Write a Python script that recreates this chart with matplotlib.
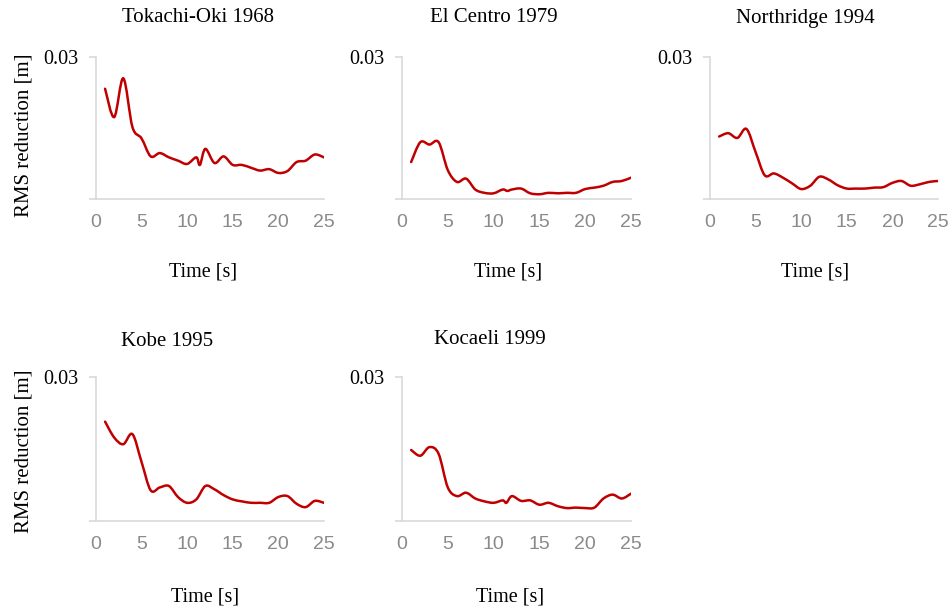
import numpy as np
import matplotlib.pyplot as plt
from matplotlib.path import Path
from matplotlib.patches import PathPatch

# RMS displacement reduction per earthquake record, sampled in time [s]
tokachi_t = [1, 2, 3, 4, 5, 6, 7, 8, 9, 10, 11, 11.4, 12, 13, 14, 15, 16, 17, 18, 19, 20, 21, 22, 23, 24, 25]
tokachi_rms = [0.0233, 0.0173, 0.0255, 0.0152, 0.0128, 0.0090, 0.0097, 0.0088, 0.0081, 0.0074, 0.0088, 0.0072,
               0.0106, 0.0076, 0.0090, 0.0072, 0.0072, 0.0066, 0.0060, 0.0063, 0.0055, 0.0059, 0.0078, 0.0081,
               0.0094, 0.0088]

elcentro_t = [1, 2, 3, 4, 5, 6, 7, 8, 9, 10, 11, 11.5, 12, 13, 14, 15, 16, 17, 18, 19, 20, 21, 22, 23, 24, 25]
elcentro_rms = [0.0078, 0.0120, 0.0115, 0.0120, 0.0061, 0.0036, 0.0043, 0.0020, 0.0013, 0.0012, 0.0020, 0.0017,
                0.0020, 0.0022, 0.0012, 0.0010, 0.0013, 0.0012, 0.0013, 0.0013, 0.0021, 0.0024, 0.0028, 0.0036,
                0.0038, 0.0045]

northridge_t = list(range(1, 26))
northridge_rms = [0.0132, 0.0139, 0.0129, 0.0148, 0.0099, 0.0050, 0.0054, 0.0045, 0.0033, 0.0021, 0.0028, 0.0047,
                  0.0041, 0.0029, 0.0022, 0.0022, 0.0022, 0.0024, 0.0025, 0.0034, 0.0038, 0.0028, 0.0031, 0.0036,
                  0.0038]

kobe_t = list(range(1, 26))
kobe_rms = [0.0207, 0.0174, 0.0160, 0.0181, 0.0123, 0.0064, 0.0070, 0.0073, 0.0050, 0.0038, 0.0045, 0.0073,
            0.0066, 0.0054, 0.0045, 0.0041, 0.0038, 0.0038, 0.0038, 0.0050, 0.0052, 0.0036, 0.0029, 0.0042,
            0.0038]

kocaeli_t = [1, 2, 3, 4, 5, 6, 7, 8, 9, 10, 11, 11.4, 12, 13, 14, 15, 16, 17, 18, 19, 20, 21, 22, 23, 24, 25]
kocaeli_rms = [0.0148, 0.0136, 0.0154, 0.0140, 0.0070, 0.0052, 0.0059, 0.0047, 0.0041, 0.0038, 0.0043, 0.0038,
               0.0052, 0.0042, 0.0043, 0.0034, 0.0038, 0.0031, 0.0027, 0.0028, 0.0027, 0.0028, 0.0047, 0.0055,
               0.0047, 0.0057]

titles = ['Tokachi-Oki 1968', 'El Centro 1979', 'Northridge 1994', 'Kobe 1995', 'Kocaeli 1999']
series = [(tokachi_t, tokachi_rms), (elcentro_t, elcentro_rms), (northridge_t, northridge_rms),
          (kobe_t, kobe_rms), (kocaeli_t, kocaeli_rms)]
x_ticks = [0, 5, 10, 15, 20, 25]

line_color = '#c00000'
axis_color = '#d9d9d9'
serif = ['Liberation Serif', 'DejaVu Serif']
tick_font = ['Liberation Sans Narrow', 'Liberation Sans', 'DejaVu Sans']


def smooth_path(x, y, tension=1 / 6):
    # Catmull-Rom style smoothed line drawn as cubic Bezier segments
    pts = np.column_stack([np.asarray(x, float), np.asarray(y, float)])
    p = np.vstack([pts[0], pts, pts[-1]])
    verts = [pts[0]]
    codes = [Path.MOVETO]
    for i in range(1, len(p) - 2):
        p0, p1, p2, p3 = p[i - 1], p[i], p[i + 1], p[i + 2]
        verts += [p1 + (p2 - p0) * tension, p2 - (p3 - p1) * tension, p2]
        codes += [Path.CURVE4] * 3
    return Path(verts, codes)


fig = plt.figure(figsize=(9.51, 6.13), dpi=100)

# axes rectangles [left, bottom, width, height] in figure fraction
boxes = [
    [0.1009, 0.6754, 0.2397, 0.2316],
    [0.4227, 0.6754, 0.2408, 0.2316],
    [0.7466, 0.6754, 0.2397, 0.2316],
    [0.1009, 0.1500, 0.2397, 0.2350],
    [0.4227, 0.1500, 0.2408, 0.2350],
]
title_pos = [(198, 18), (494, 18), (805, 18), (167, 342), (490, 340)]
xlabel_pos = [(203, 272), (508, 272), (815, 272), (205, 597), (510, 597)]

W, H = 951, 613
for i, (box, name, (t, rms)) in enumerate(zip(boxes, titles, series)):
    ax = fig.add_axes(box)
    ax.add_patch(PathPatch(smooth_path(t, rms), facecolor='none', edgecolor=line_color,
                           linewidth=1.8, capstyle='round', joinstyle='round'))
    ax.set_xlim(0, 25)
    ax.set_ylim(0, 0.03)

    for side in ['top', 'right']:
        ax.spines[side].set_visible(False)
    for side in ['left', 'bottom']:
        ax.spines[side].set_color(axis_color)
        ax.spines[side].set_linewidth(1.2)

    ax.set_yticks([0, 0.03])
    ax.set_yticklabels(['', '0.03'], family=serif, fontsize=14.5, color='black')
    ax.tick_params(axis='y', length=5, width=1.2, color=axis_color, pad=8)

    ax.set_xticks(x_ticks)
    ax.set_xticklabels([str(v) for v in x_ticks], family=tick_font, fontsize=14, color='#8a8a8a')
    ax.tick_params(axis='x', length=0, pad=11)
    ax.set_xticks([0], minor=True)
    ax.tick_params(axis='x', which='minor', length=6, width=1.2, color=axis_color)

    tx, ty = title_pos[i]
    fig.text(tx / W, 1 - ty / H, name, family=serif, fontsize=15, ha='center', va='center')
    lx, ly = xlabel_pos[i]
    fig.text(lx / W, 1 - ly / H, 'Time [s]', family=serif, fontsize=14.5, ha='center', va='center')

# y-axis labels only on the left column
fig.text(24 / W, 1 - 135 / H, 'RMS reduction [m]', family=serif, fontsize=15,
         rotation=90, ha='center', va='center')
fig.text(24 / W, 1 - 451 / H, 'RMS reduction [m]', family=serif, fontsize=15,
         rotation=90, ha='center', va='center')

fig.savefig('out.png', dpi=100, facecolor='white')
